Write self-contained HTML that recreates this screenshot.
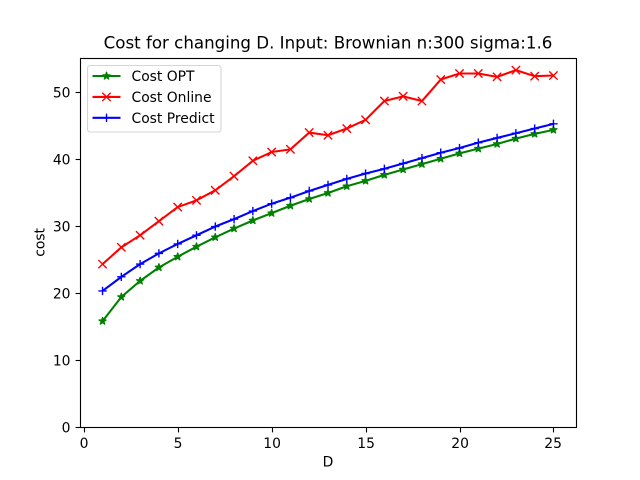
<!DOCTYPE html>
<html>
<head>
<meta charset="utf-8">
<style>
html,body{margin:0;padding:0;background:#fff;}
svg{display:block;}
text{font-family:"DejaVu Sans","Liberation Sans",sans-serif;fill:#000;}
</style>
</head>
<body>
<svg id="chart" xmlns="http://www.w3.org/2000/svg" width="640" height="480" viewBox="0 0 640 480">
<rect x="0" y="0" width="640" height="480" fill="#fff"/>
<g id="series-layer"></g>
<g id="tick-layer"></g>
<rect x="80.5" y="58.5" width="496" height="369" fill="none" stroke="#000" stroke-width="1.11"/>
<text x="328" y="48.5" font-size="16.67" text-anchor="middle">Cost for changing D. Input: Brownian n:300 sigma:1.6</text>
<text x="328" y="466.5" font-size="13.89" text-anchor="middle">D</text>
<text transform="translate(44.5,242.4) rotate(-90)" font-size="13.89" text-anchor="middle">cost</text>
<g id="legend">
<rect x="87.5" y="65.5" width="133.5" height="66.5" rx="2.8" fill="#fff" fill-opacity="0.8" stroke="#ccc" stroke-opacity="0.8" stroke-width="1.11"/>
</g>
</svg>
<script>
const categories = [1,2,3,4,5,6,7,8,9,10,11,12,13,14,15,16,17,18,19,20,21,22,23,24,25];
const costOpt = [15.8,19.4,21.8,23.8,25.4,26.9,28.3,29.6,30.8,31.9,33.0,34.0,34.9,35.9,36.7,37.6,38.4,39.2,40.0,40.8,41.5,42.2,43.0,43.7,44.3];
const costOnline = [24.3,26.8,28.6,30.7,32.8,33.8,35.3,37.4,39.7,41.0,41.4,43.9,43.5,44.5,45.8,48.6,49.3,48.6,51.8,52.7,52.7,52.2,53.2,52.3,52.4];
const costPredict = [20.3,22.4,24.3,25.9,27.3,28.6,29.9,31.0,32.2,33.3,34.2,35.2,36.1,37.0,37.8,38.5,39.3,40.1,40.9,41.6,42.4,43.1,43.8,44.5,45.2];
const xTickLabels = [0,5,10,15,20,25];
const yTickLabels = [0,10,20,30,40,50];
const seriesNames = ["Cost OPT","Cost Online","Cost Predict"];
const seriesColors = ["#008000","#ff0000","#0000ff"];
const seriesMarkers = ["star","x","plus"];

const NS = "http://www.w3.org/2000/svg";
const plotLeft = 80, plotRight = 576, plotTop = 57.6, plotBottom = 427.2;

function extent(values){
  return [Math.min.apply(null, values), Math.max.apply(null, values)];
}
const xExt = extent(categories);
const xPad = (xExt[1] - xExt[0]) * 0.05;
const allValues = costOpt.concat(costOnline, costPredict);
const yExt = extent(allValues);
const yMax = yExt[1] + (yExt[1] - yExt[0]) * 0.05;

function xScale(v){
  return plotLeft + (v - (xExt[0] - xPad)) / (xExt[1] - xExt[0] + 2 * xPad) * (plotRight - plotLeft);
}
function yScale(v){
  return plotBottom - v / yMax * (plotBottom - plotTop);
}
function snap(p){
  return Math.round(p) + 0.5;
}
function make(tag, attrs){
  const el = document.createElementNS(NS, tag);
  for (const k in attrs) el.setAttribute(k, attrs[k]);
  return el;
}
function markerPath(kind, cx, cy){
  const r = 4.17;
  if (kind === "x") {
    return "M"+(cx-r)+" "+(cy-r)+"L"+(cx+r)+" "+(cy+r)+"M"+(cx-r)+" "+(cy+r)+"L"+(cx+r)+" "+(cy-r);
  }
  if (kind === "plus") {
    return "M"+(cx-r)+" "+cy+"L"+(cx+r)+" "+cy+"M"+cx+" "+(cy-r)+"L"+cx+" "+(cy+r);
  }
  let d = "";
  for (let i = 0; i < 10; i++) {
    const rad = i % 2 === 0 ? r : r * 0.381966;
    const a = -Math.PI / 2 + i * Math.PI / 5;
    d += (i === 0 ? "M" : "L") + (cx + rad * Math.cos(a)).toFixed(2) + " " + (cy + rad * Math.sin(a)).toFixed(2);
  }
  return d + "Z";
}
function drawMarker(parent, kind, color, cx, cy){
  const m = make("path", {d: markerPath(kind, cx, cy)});
  
  
  if (kind === "star") {
    m.setAttribute("fill", color);
    m.setAttribute("stroke", color);
    m.setAttribute("stroke-width", "1");
    m.setAttribute("stroke-linejoin", "bevel");
  } else {
    m.setAttribute("fill", "none");
    m.setAttribute("stroke", color);
    m.setAttribute("stroke-width", "1.39");
  }
  parent.appendChild(m);
}

const seriesLayer = document.getElementById("series-layer");
const seriesValues = [costOpt, costOnline, costPredict];
seriesValues.forEach(function(values, s){
  const g = make("g", {});
  
  
  const pts = values.map(function(v, i){
    return xScale(categories[i]).toFixed(2) + "," + yScale(v).toFixed(2);
  }).join(" ");
  const line = make("polyline", {points: pts, fill: "none", stroke: seriesColors[s], "stroke-width": 2.08, "stroke-linejoin": "round"});
  
  
  g.appendChild(line);
  values.forEach(function(v, i){
    drawMarker(g, seriesMarkers[s], seriesColors[s], xScale(categories[i]), yScale(v));
  });
  seriesLayer.appendChild(g);
});

const tickLayer = document.getElementById("tick-layer");
xTickLabels.forEach(function(t){
  const x = snap(xScale(t));
  const mark = make("line", {x1: x, x2: x, y1: 427.5, y2: 432.4, stroke: "#000", "stroke-width": 1.11});
  
  
  tickLayer.appendChild(mark);
  const label = make("text", {x: x - 0.4, y: 448, "font-size": 13.89, "text-anchor": "middle"});
  
  
  label.textContent = t;
  tickLayer.appendChild(label);
});
yTickLabels.forEach(function(t){
  const y = snap(yScale(t));
  const mark = make("line", {x1: 75.6, x2: 80.5, y1: y, y2: y, stroke: "#000", "stroke-width": 1.11});
  
  
  tickLayer.appendChild(mark);
  const label = make("text", {x: 70.5, y: y + 4.8, "font-size": 13.89, "text-anchor": "end"});
  
  
  label.textContent = t;
  tickLayer.appendChild(label);
});

const legend = document.getElementById("legend");
seriesNames.forEach(function(name, s){
  const y = 76 + s * 20.9;
  const entry = make("g", {});
  
  
  const handle = make("line", {x1: 92.5, x2: 120.5, y1: y, y2: y, stroke: seriesColors[s], "stroke-width": 2.08});
  
  
  entry.appendChild(handle);
  drawMarker(entry, seriesMarkers[s], seriesColors[s], 106.5, y);
  const label = make("text", {x: 131.5, y: y + 5, "font-size": 13.89});
  
  
  label.textContent = name;
  entry.appendChild(label);
  legend.appendChild(entry);
});
</script>
</body>
</html>
